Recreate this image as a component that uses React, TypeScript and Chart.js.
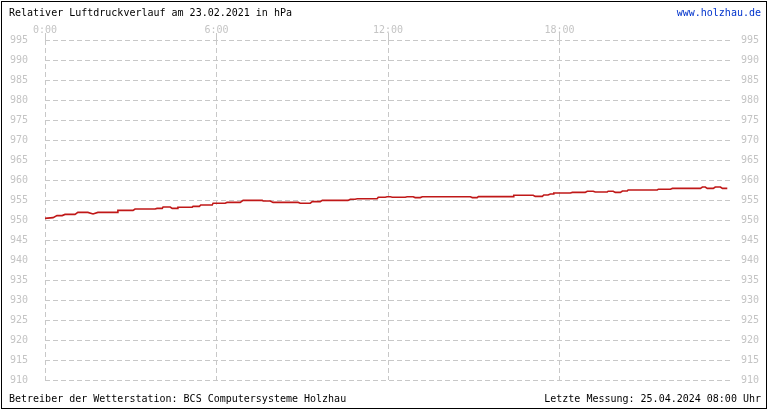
import { useEffect, useRef } from "react";
import { Chart, registerables } from "chart.js";

Chart.register(...registerables);

// Uhrzeit in Stunden (0..24) und Luftdruck in hPa
const hours = [
  0, 0.28, 0.42, 0.6, 0.7, 1.05, 1.15, 1.5, 1.68, 1.85, 2.52, 2.55, 3.08, 3.15, 3.85,
  3.92, 4.1, 4.13, 4.38, 4.45, 4.62, 4.65, 5.15, 5.18, 5.4, 5.45, 5.85, 5.88, 6.3,
  6.37, 6.83, 6.93, 7.6, 7.63, 7.88, 7.98, 8.86, 8.93, 9.28, 9.35, 9.63, 9.7, 10.6,
  10.68, 10.85, 10.92, 11.62, 11.66, 11.9, 11.97, 12.08, 12.15, 12.6, 12.67, 12.88,
  12.95, 13.13, 13.2, 14.88, 14.95, 15.12, 15.16, 16.38, 16.4, 17.08, 17.15, 17.4,
  17.45, 17.6, 17.68, 17.78, 17.8, 18.38, 18.45, 18.9, 18.97, 19.18, 19.25, 19.67,
  19.7, 19.88, 19.95, 20.13, 20.2, 20.37, 20.4, 21.42, 21.46, 21.88, 21.95, 22.93,
  23.0, 23.1, 23.17, 23.38, 23.45, 23.63, 23.7, 23.87,
];
const pressure = [
  950.4, 950.6, 951.1, 951.1, 951.4, 951.4, 951.9, 951.9, 951.5, 951.9, 951.9, 952.4, 952.4, 952.75, 952.75,
  952.9, 952.9, 953.25, 953.25, 952.9, 952.9, 953.2, 953.2, 953.4, 953.4, 953.75, 953.75, 954.2, 954.2,
  954.4, 954.4, 954.9, 954.9, 954.75, 954.75, 954.4, 954.4, 954.2, 954.2, 954.6, 954.6, 954.9, 954.9,
  955.2, 955.2, 955.3, 955.3, 955.7, 955.7, 955.8, 955.8, 955.7, 955.7, 955.8, 955.8,
  955.6, 955.6, 955.8, 955.8, 955.6, 955.6, 955.85, 955.85, 956.2, 956.2, 955.9, 955.9,
  956.25, 956.25, 956.5, 956.5, 956.75, 956.75, 956.9, 956.9, 957.2, 957.2, 957.0, 957.0,
  957.2, 957.2, 956.9, 956.9, 957.25, 957.25, 957.5, 957.5, 957.7, 957.7, 957.9, 957.9,
  958.25, 958.25, 957.9, 957.9, 958.25, 958.25, 957.9, 957.9,
];

const MONO = "'DejaVu Sans Mono', monospace";
const TICK_COLOR = "#c4c4c4";
const GRID_COLOR = "#c8c8c8";

export default function App() {
  const canvasRef = useRef<HTMLCanvasElement>(null);

  useEffect(() => {
    document.body.style.margin = "0";
    if (!canvasRef.current) return;
    const chart = new Chart(canvasRef.current, {
      type: "line",
      data: {
        datasets: [
          {
            label: "Luftdruck",
            data: hours.map((h, i) => ({ x: h, y: pressure[i] })),
            borderColor: "#c01818",
            borderWidth: 1.6,
            pointRadius: 0,
            tension: 0,
            yAxisID: "y",
          },
        ],
      },
      options: {
        animation: false,
        responsive: false,
        layout: { padding: { top: 0, bottom: 30, left: 0, right: 0 } },
        plugins: { legend: { display: false }, tooltip: { enabled: false } },
        scales: {
          x: {
            type: "linear",
            position: "top",
            min: 0,
            max: 24,
            afterFit: (s: any) => { s.height = 40; },
            border: { display: false, dash: [5, 3] },
            grid: {
              drawTicks: true,
              tickLength: 7,
              color: (c: any) => (c.tick && c.tick.value === 24 ? "transparent" : GRID_COLOR),
            },
            ticks: {
              stepSize: 6,
              autoSkip: false,
              maxRotation: 0,
              padding: -3,
              color: TICK_COLOR,
              font: { family: MONO, size: 10 },
              callback: (v: any) => (v < 24 ? `${v}:00` : ""),
            },
          },
          y: {
            position: "left",
            min: 910,
            max: 995,
            afterFit: (s: any) => { s.width = 45; },
            border: { display: false, dash: [5, 3] },
            grid: { color: GRID_COLOR, drawTicks: false },
            ticks: {
              stepSize: 5,
              autoSkip: false,
              padding: 17,
              color: TICK_COLOR,
              font: { family: MONO, size: 10 },
            },
          },
          y2: {
            position: "right",
            min: 910,
            max: 995,
            afterFit: (s: any) => { s.width = 39; },
            border: { display: false },
            grid: { display: false },
            ticks: {
              stepSize: 5,
              autoSkip: false,
              padding: 2,
              color: TICK_COLOR,
              font: { family: MONO, size: 10 },
            },
          },
        },
      },
    } as any);
    return () => { chart.destroy(); };
  }, []);

  const text: React.CSSProperties = {
    position: "absolute",
    fontFamily: MONO,
    fontSize: 10,
    lineHeight: "12px",
    whiteSpace: "pre",
    color: "#000",
  };

  return (
    <div style={{ position: "relative", width: 770, height: 410, background: "#fff", overflow: "hidden" }}>
      <canvas ref={canvasRef} width={770} height={410} style={{ position: "absolute", left: 0, top: 0 }} />
      <div style={{ position: "absolute", left: 1, top: 1, width: 766, height: 408, border: "1px solid #000", boxSizing: "border-box" }} />
      <div style={{ ...text, left: 9, top: 7 }}>Relativer Luftdruckverlauf am 23.02.2021 in hPa</div>
      <div style={{ ...text, right: 9, top: 7, color: "#0033cc" }}>www.holzhau.de</div>
      <div style={{ ...text, left: 9, top: 393 }}>Betreiber der Wetterstation: BCS Computersysteme Holzhau</div>
      <div style={{ ...text, right: 9, top: 393 }}>Letzte Messung: 25.04.2024 08:00 Uhr</div>
    </div>
  );
}
